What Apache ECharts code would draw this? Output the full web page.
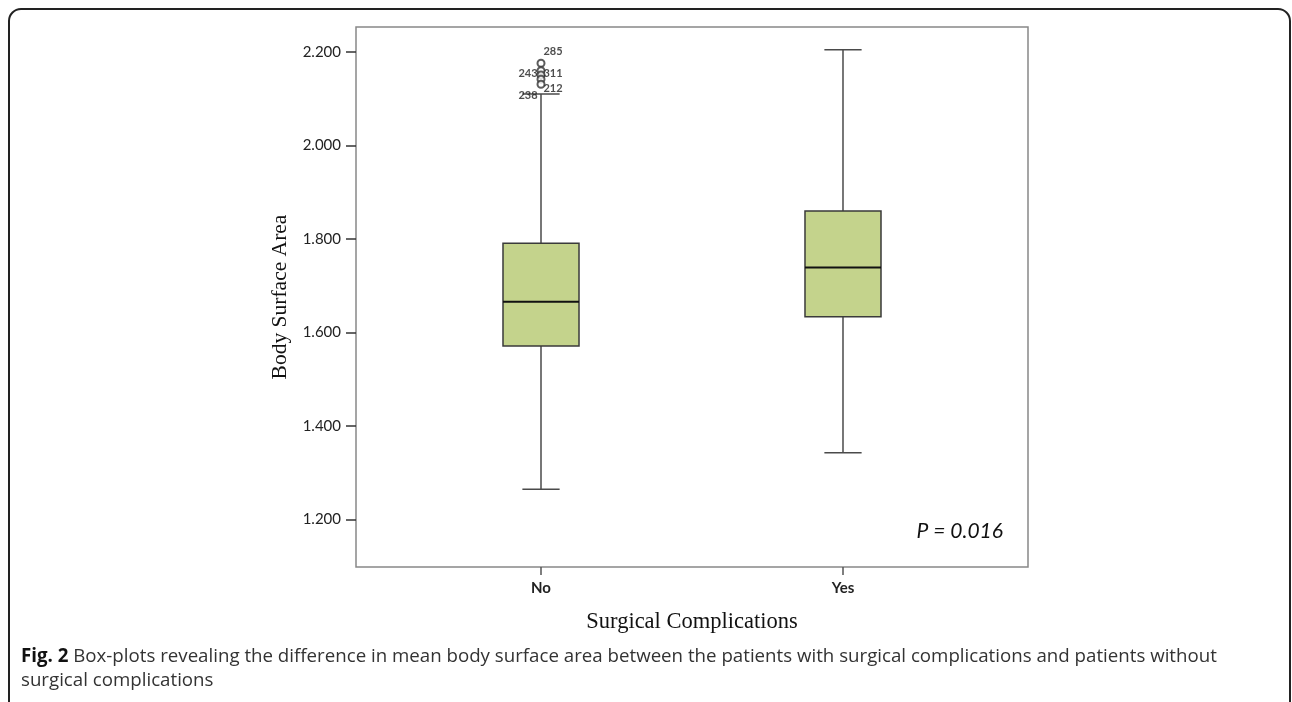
<!DOCTYPE html>
<html><head><meta charset="utf-8">
<script src="https://cdn.jsdelivr.net/npm/echarts@6/dist/echarts.min.js"></script>
<style>html,body{margin:0;padding:0;background:#fff}#c{width:1292px;height:702px}</style>
</head><body><div id="c"></div>
<script>
// ---- data ----
const categories = ['No', 'Yes'];
const whiskerLow = [1.265, 1.343];
const q1 = [1.571, 1.634];
const median = [1.666, 1.739];
const q3 = [1.791, 1.860];
const whiskerHigh = [2.110, 2.205];
const outlierCategory = ['No', 'No', 'No', 'No', 'No'];
const outlierValues = [2.176, 2.160, 2.151, 2.142, 2.131];
const outlierCases = ['285', '243', '311', '212', '238'];
const yTicks = [1.2, 1.4, 1.6, 1.8, 2.0, 2.2];
const xTitle = 'Surgical Complications';
const yTitle = 'Body Surface Area';
const pValueText = 'P = 0.016';
const captionBold = 'Fig. 2';
const captionLine1 = ' Box-plots revealing the difference in mean body surface area between the patients with surgical complications and patients without';
const captionLine2 = 'surgical complications';

// ---- chart ----
const chart = echarts.init(document.getElementById('c'), null, {renderer: 'canvas'});
const labelOffsets = [[12, -12], [-13, 3], [12, -1], [12, 9], [-13, 11]];

function renderBox(params, api) {
  const x = api.value(0);
  const pLo = api.coord([x, api.value(1)]);
  const pQ1 = api.coord([x, api.value(2)]);
  const pMd = api.coord([x, api.value(3)]);
  const pQ3 = api.coord([x, api.value(4)]);
  const pHi = api.coord([x, api.value(5)]);
  const bw = api.size([0.2517, 0])[0];
  const cw = bw * 0.49;
  const cx = pMd[0];
  const ls = () => ({stroke: '#4a4a4a', lineWidth: 1.5});
  return {type: 'group', children: [
    {type: 'line', shape: {x1: cx, y1: pQ3[1], x2: cx, y2: pHi[1]}, style: ls()},
    {type: 'line', shape: {x1: cx, y1: pQ1[1], x2: cx, y2: pLo[1]}, style: ls()},
    {type: 'line', shape: {x1: cx - cw / 2, y1: pHi[1], x2: cx + cw / 2, y2: pHi[1]}, style: ls()},
    {type: 'line', shape: {x1: cx - cw / 2, y1: pLo[1], x2: cx + cw / 2, y2: pLo[1]}, style: ls()},
    {type: 'rect', shape: {x: cx - bw / 2, y: pQ3[1], width: bw, height: pQ1[1] - pQ3[1]},
      style: {fill: '#c4d38c', stroke: '#3a3a3a', lineWidth: 1.5}},
    {type: 'line', shape: {x1: cx - bw / 2, y1: pMd[1], x2: cx + bw / 2, y2: pMd[1]},
      style: {stroke: '#111', lineWidth: 2}}
  ]};
}

const option = {
  animation: false,
  backgroundColor: '#fff',
  grid: {left: 356, top: 27, width: 672, height: 540, show: true,
    borderColor: '#888', borderWidth: 1.5, backgroundColor: 'transparent'},
  xAxis: {
    type: 'value', min: -0.6126, max: 1.6126,
    axisLine: {show: false, onZero: false},
    splitLine: {show: false},
    axisTick: {show: true, length: 8, customValues: categories.map((c, i) => i),
      lineStyle: {color: '#555', width: 1.5}},
    axisLabel: {customValues: categories.map((c, i) => i),
      formatter: v => categories[Math.round(v)] || '',
      margin: 14, fontSize: 15, fontWeight: 'bold', color: '#222', fontFamily: 'Lato'},
    name: xTitle, nameLocation: 'middle', nameGap: 44,
    nameTextStyle: {fontFamily: 'Liberation Serif', fontSize: 22.5, color: '#111'}
  },
  yAxis: {
    type: 'value', min: 1.0985, max: 2.2535,
    axisLine: {show: false, onZero: false},
    splitLine: {show: false},
    axisTick: {show: true, inside: false, length: 10, customValues: yTicks,
      lineStyle: {color: '#333', width: 1.5}},
    axisLabel: {customValues: yTicks, formatter: v => v.toFixed(3),
      margin: 15, fontSize: 15, color: '#222', fontFamily: 'Lato'},
    name: yTitle, nameLocation: 'middle', nameGap: 60, nameRotate: 90,
    nameTextStyle: {fontFamily: 'Liberation Serif', fontSize: 21.5, color: '#111'}
  },
  series: [
    {
      type: 'custom',
      renderItem: renderBox,
      encode: {x: 0, y: [1, 2, 3, 4, 5]},
      data: categories.map((c, i) => [i, whiskerLow[i], q1[i], median[i], q3[i], whiskerHigh[i]]),
      z: 2
    },
    {
      type: 'scatter',
      symbol: 'emptyCircle',
      symbolSize: 7,
      itemStyle: {color: '#333', borderWidth: 1.2},
      z: 3,
      label: {show: true, position: 'inside', formatter: '{b}', fontSize: 11,
        fontWeight: 'bold', color: '#222', fontFamily: 'Lato'},
      data: outlierValues.map((v, i) => ({
        name: outlierCases[i],
        value: [categories.indexOf(outlierCategory[i]), v],
        label: {offset: labelOffsets[i]}
      }))
    }
  ],
  graphic: [
    {type: 'rect', shape: {x: 9, y: 9, width: 1281, height: 800, r: [12, 12, 0, 0]},
      style: {fill: 'none', stroke: '#222', lineWidth: 2}, silent: true},
    {type: 'text', x: 1003, y: 531,
      style: {text: pValueText, align: 'right', verticalAlign: 'middle',
        fontSize: 21, fontStyle: 'italic', fontFamily: 'Lato', fill: '#111'}},
    {type: 'text', x: 21, y: 657,
      style: {text: '{b|' + captionBold + '}' + captionLine1, align: 'left', verticalAlign: 'middle',
        fontSize: 18.7, fontFamily: 'Open Sans', fill: '#333',
        rich: {b: {fontSize: 18.7, fontFamily: 'Open Sans', fontWeight: 'bold', fill: '#111', color: '#111'}}}},
    {type: 'text', x: 21, y: 681,
      style: {text: captionLine2, align: 'left', verticalAlign: 'middle',
        fontSize: 18.7, fontFamily: 'Open Sans', fill: '#333'}}
  ]
};
chart.setOption(option);
</script>
</body></html>
